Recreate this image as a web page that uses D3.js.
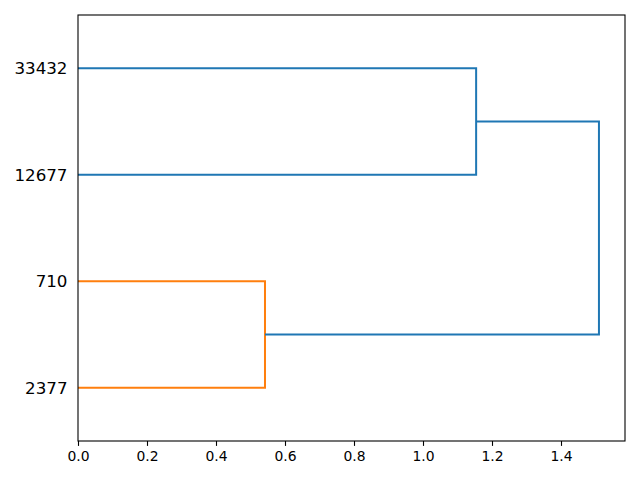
<!DOCTYPE html>
<html>
<head>
<style>
  body { margin: 0; background: #fff; }
  text { font-family: "DejaVu Sans", sans-serif; }
</style>
<script src="https://d3js.org/d3.v7.min.js"></script>
</head>
<body>
<svg id="chart" width="640" height="480"></svg>
<script>
// leaf labels, bottom to top
var leafLabels = ["2377", "710", "12677", "33432"];
// merges: [left cluster, right cluster, distance]; new cluster ids continue after the leaves
var merges = [
    [0, 1, 0.542],
    [2, 3, 1.154],
    [4, 5, 1.51]
];
var mergeColors = ["#ff7f0e", "#1f77b4", "#1f77b4"];
var xTicks = [0, 0.2, 0.4, 0.6, 0.8, 1.0, 1.2, 1.4];

var margin = {left: 78, right: 15, top: 15, bottom: 39};
var w = 640, h = 480;
var svg = d3.select("#chart");

var maxDist = d3.max(merges, function(m) { return m[2]; });
var x = d3.scaleLinear().domain([0, maxDist * 1.05]).range([margin.left, w - margin.right]);
var y = d3.scaleLinear().domain([0, leafLabels.length * 10]).range([h - margin.bottom, margin.top]);

// cluster positions (scipy style: leaves at 5, 15, 25, ...)
var pos = leafLabels.map(function(d, i) { return 5 + 10 * i; });
var hgt = leafLabels.map(function() { return 0; });
merges.forEach(function(m) {
    pos.push((pos[m[0]] + pos[m[1]]) / 2);
    hgt.push(m[2]);
});

var links = svg.append("g");
merges.forEach(function(m, i) {
    var a = m[0], b = m[1];
    var p = d3.path();
    p.moveTo(x(hgt[a]), y(pos[a]));
    p.lineTo(x(m[2]), y(pos[a]));
    p.lineTo(x(m[2]), y(pos[b]));
    p.lineTo(x(hgt[b]), y(pos[b]));
    links.append("path")
        .attr("d", p.toString())
        .attr("fill", "none")
        .attr("stroke", mergeColors[i])
        .attr("stroke-width", 2);
});

// x axis
var xAxis = svg.append("g")
    .attr("transform", "translate(0," + (h - margin.bottom) + ")")
    .call(d3.axisBottom(x).tickValues(xTicks).tickFormat(d3.format(".1f")).tickSize(4.9).tickPadding(4.9));
xAxis.select(".domain").remove();
xAxis.selectAll("line").attr("stroke", "#000").attr("stroke-width", 1.1);
xAxis.selectAll("text").style("font-size", "13.9px").attr("fill", "#000").style("font-family", "DejaVu Sans");

// y leaf labels
var yAxis = svg.append("g")
    .attr("transform", "translate(" + margin.left + ",0)")
    .call(d3.axisLeft(y).tickValues(leafLabels.map(function(d, i) { return pos[i]; }))
        .tickFormat(function(d, i) { return leafLabels[i]; }).tickSize(0).tickPadding(10.5));
yAxis.select(".domain").remove();
yAxis.selectAll("text").style("font-size", "16.7px").attr("fill", "#000").style("font-family", "DejaVu Sans");

// frame
svg.append("rect")
    .attr("x", margin.left).attr("y", margin.top)
    .attr("width", w - margin.left - margin.right)
    .attr("height", h - margin.top - margin.bottom)
    .attr("fill", "none").attr("stroke", "#000").attr("stroke-width", 1.1);
</script>
</body>
</html>
